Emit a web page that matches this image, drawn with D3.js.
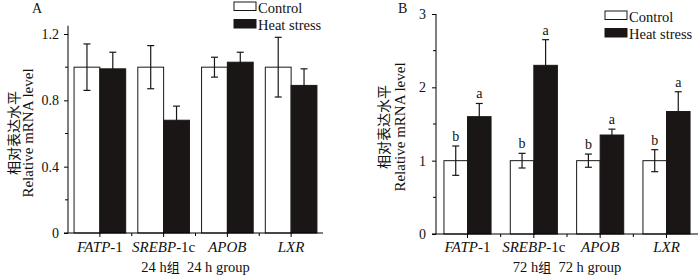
<!DOCTYPE html>
<html lang="en">
  <head>
    <meta charset="utf-8">
    <script src="https://d3js.org/d3.v7.min.js"></script>
    <style>
    body { margin: 0; background: #fff; }
    svg text { font-family: "Liberation Serif", "Times New Roman", serif; fill: #111; }
    .cn { font-family: "Noto Sans CJK SC", sans-serif; }
    </style>
    <title>Relative mRNA level</title>
  </head>
  <body>
    <script>
// genes on the x axis
var genes = ['FATP', 'SREBP', 'APOB', 'LXR'];
var geneSuffix = ['-1', '-1c', '', ''];
var seriesNames = ['Control', 'Heat stress'];

// panel A, 24 h
var ctrl24 = [1.0, 1.0, 1.0, 1.0];
var ctrl24Err = [0.14, 0.13, 0.06, 0.18];
var heat24 = [0.99, 0.68, 1.03, 0.89];
var heat24Err = [0.10, 0.085, 0.06, 0.10];

// panel B, 72 h
var ctrl72 = [1.0, 1.0, 1.0, 1.0];
var ctrl72Err = [0.2, 0.1, 0.09, 0.15];
var heat72 = [1.60, 2.30, 1.35, 1.67];
var heat72Err = [0.18, 0.35, 0.08, 0.27];
var ctrl72Letters = ['b', 'b', 'b', 'b'];
var heat72Letters = ['a', 'a', 'a', 'a'];

var ticksA = [0, 0.4, 0.8, 1.2];
var ticksB = [0, 1, 2, 3];

var svg = d3.select('body').append('svg')
    .attr('width', 700)
    .attr('height', 279);

function panel(cfg) {
  var g = svg.append('g');

  var x = d3.scaleBand().domain(genes)
      .range([cfg.x0, cfg.x1])
      .paddingInner(cfg.padIn)
      .paddingOuter(cfg.padOut);
  var xs = d3.scaleBand().domain(seriesNames).range([0, x.bandwidth()]);
  var y = d3.scaleLinear().domain(cfg.domain).range([cfg.y0, cfg.yTop]);

  // bars
  var rows = genes.map(function(gname, i) {
    return [
      {gene: gname, s: 'Control', v: cfg.ctrl[i], e: cfg.ctrlErr[i], lab: cfg.ctrlLab ? cfg.ctrlLab[i] : null},
      {gene: gname, s: 'Heat stress', v: cfg.heat[i], e: cfg.heatErr[i], lab: cfg.heatLab ? cfg.heatLab[i] : null}
    ];
  });
  var data = [].concat.apply([], rows);

  g.selectAll('rect.bar').data(data).enter().append('rect')
      .attr('class', 'bar')
      .attr('x', function(d) { return x(d.gene) + xs(d.s); })
      .attr('y', function(d) { return y(d.v); })
      .attr('width', xs.bandwidth())
      .attr('height', function(d) { return y(0) - y(d.v); })
      .attr('fill', function(d) { return d.s == 'Control' ? '#fff' : '#1a1616'; })
      .attr('stroke', '#1a1616')
      .attr('stroke-width', 1);

  // error bars
  var eb = g.selectAll('g.err').data(data).enter().append('g')
      .attr('class', 'err')
      .attr('stroke', '#1a1616')
      .attr('stroke-width', 1.2);
  function cx(d) { return x(d.gene) + xs(d.s) + xs.bandwidth() / 2; }
  eb.append('line')
      .attr('x1', cx).attr('x2', cx)
      .attr('y1', function(d) { return y(d.v + d.e); })
      .attr('y2', function(d) { return y(d.v - d.e); });
  eb.append('line')
      .attr('x1', function(d) { return cx(d) - 3.5; })
      .attr('x2', function(d) { return cx(d) + 3.5; })
      .attr('y1', function(d) { return y(d.v + d.e); })
      .attr('y2', function(d) { return y(d.v + d.e); });
  eb.append('line')
      .attr('x1', function(d) { return cx(d) - 3.5; })
      .attr('x2', function(d) { return cx(d) + 3.5; })
      .attr('y1', function(d) { return y(d.v - d.e); })
      .attr('y2', function(d) { return y(d.v - d.e); });

  // significance letters
  g.selectAll('text.sig').data(data.filter(function(d) { return d.lab; }))
    .enter().append('text')
      .attr('class', 'sig')
      .attr('x', cx)
      .attr('y', function(d) { return y(d.v + d.e) - 5; })
      .attr('text-anchor', 'middle')
      .style('font-size', '14px')
      .text(function(d) { return d.lab; });

  // y axis
  var yAxis = d3.axisLeft(y).tickValues(cfg.ticks).tickSize(4).tickPadding(cfg.tickPad)
      .tickFormat(cfg.fmt);
  var ya = g.append('g').attr('transform', 'translate(' + cfg.x0 + ',0)').call(yAxis);
  ya.select('.domain').attr('d', 'M0,' + y(0) + 'V' + y(cfg.domain[1]));
  ya.selectAll('.tick text').style('font-size', '14px')
    .style('font-family', '"Liberation Serif", serif').attr('fill', '#111');
  g.selectAll('line.ymin').data(cfg.minor).enter().append('line')
      .attr('class', 'ymin')
      .attr('x1', cfg.x0 - 3).attr('x2', cfg.x0)
      .attr('y1', function(d) { return y(d); })
      .attr('y2', function(d) { return y(d); })
      .attr('stroke', '#000');

  // x axis
  g.append('line')
      .attr('x1', cfg.x0 - 4).attr('x2', cfg.x1)
      .attr('y1', y(0)).attr('y2', y(0))
      .attr('stroke', '#000');
  g.selectAll('line.xt').data(genes).enter().append('line')
      .attr('class', 'xt')
      .attr('x1', function(d) { return x(d) + x.bandwidth() / 2; })
      .attr('x2', function(d) { return x(d) + x.bandwidth() / 2; })
      .attr('y1', y(0)).attr('y2', y(0) + 4)
      .attr('stroke', '#000');
  g.selectAll('line.xb').data(genes.slice(1)).enter().append('line')
      .attr('class', 'xb')
      .attr('x1', function(d) { return x(d) - x.step() * x.paddingInner() / 2; })
      .attr('x2', function(d) { return x(d) - x.step() * x.paddingInner() / 2; })
      .attr('y1', y(0)).attr('y2', y(0) + 3)
      .attr('stroke', '#000');

  var xl = g.selectAll('text.xl').data(genes).enter().append('text')
      .attr('class', 'xl')
      .attr('x', function(d) { return x(d) + x.bandwidth() / 2; })
      .attr('y', 252)
      .attr('text-anchor', 'middle')
      .style('font-size', '15px');
  xl.append('tspan').style('font-style', 'italic').text(function(d) { return d; });
  xl.append('tspan').text(function(d, i) { return geneSuffix[i]; });

  // group title
  var gt = g.append('text')
      .attr('x', (cfg.x0 + cfg.x1) / 2)
      .attr('y', 272)
      .attr('text-anchor', 'middle')
      .style('font-size', '14.5px');
  gt.append('tspan').text(cfg.hours + ' h');
  gt.append('tspan').attr('class', 'cn').style('font-size', '13px').text('组');
  gt.append('tspan').text('\u00a0 ' + cfg.hours + ' h group');

  // y title
  g.append('text')
      .attr('class', 'cn')
      .attr('transform', 'translate(' + cfg.cnX + ',' + cfg.titleY + ') rotate(-90)')
      .attr('text-anchor', 'middle')
      .style('font-size', '14px')
      .attr('fill', '#333')
      .text('相对表达水平');
  g.append('text')
      .attr('transform', 'translate(' + cfg.enX + ',' + cfg.titleY + ') rotate(-90)')
      .attr('text-anchor', 'middle')
      .style('font-size', '15px')
      .text('Relative mRNA level');

  // panel letter
  g.append('text').attr('x', cfg.letterX).attr('y', 12.5)
      .style('font-size', '14px').text(cfg.letter);

  // legend
  var lg = g.selectAll('g.lg').data(seriesNames).enter().append('g')
      .attr('class', 'lg')
      .attr('transform', function(d, i) {
        return 'translate(' + cfg.legX + ',' + (cfg.legY + i * 17.5) + ')';
      });
  lg.append('rect')
      .attr('x', 0).attr('y', -9)
      .attr('width', 22).attr('height', 8.5)
      .attr('fill', function(d) { return d == 'Control' ? '#fff' : '#1a1616'; })
      .attr('stroke', '#1a1616');
  lg.append('text').attr('x', 24).attr('y', 1.5)
      .style('font-size', '14.5px')
      .text(function(d) { return d; });
}

panel({
  x0: 68, x1: 323, padIn: 0.19, padOut: 0.095,
  domain: [0, 1.25], y0: 233, yTop: 34 - 0.05 * 165.8,
  ticks: ticksA, minor: [0.2, 0.6, 1.0], tickPad: 5,
  fmt: function(d) { return d == 0 ? '0' : d3.format('.1f')(d); },
  ctrl: ctrl24, ctrlErr: ctrl24Err, heat: heat24, heatErr: heat24Err,
  hours: 24, cnX: 19, enX: 33, titleY: 133,
  letter: 'A', letterX: 32, legX: 234, legY: 11
});

panel({
  x0: 436, x1: 698, padIn: 0.29, padOut: 0.12,
  domain: [0, 3], y0: 234, yTop: 14,
  ticks: ticksB, minor: [0.5, 1.5, 2.5], tickPad: 6,
  fmt: d3.format('d'),
  ctrl: ctrl72, ctrlErr: ctrl72Err, heat: heat72, heatErr: heat72Err,
  ctrlLab: ctrl72Letters, heatLab: heat72Letters,
  hours: 72, cnX: 389, enX: 405, titleY: 127,
  letter: 'B', letterX: 398, legX: 605, legY: 20
});
    </script>
  </body>
</html>
